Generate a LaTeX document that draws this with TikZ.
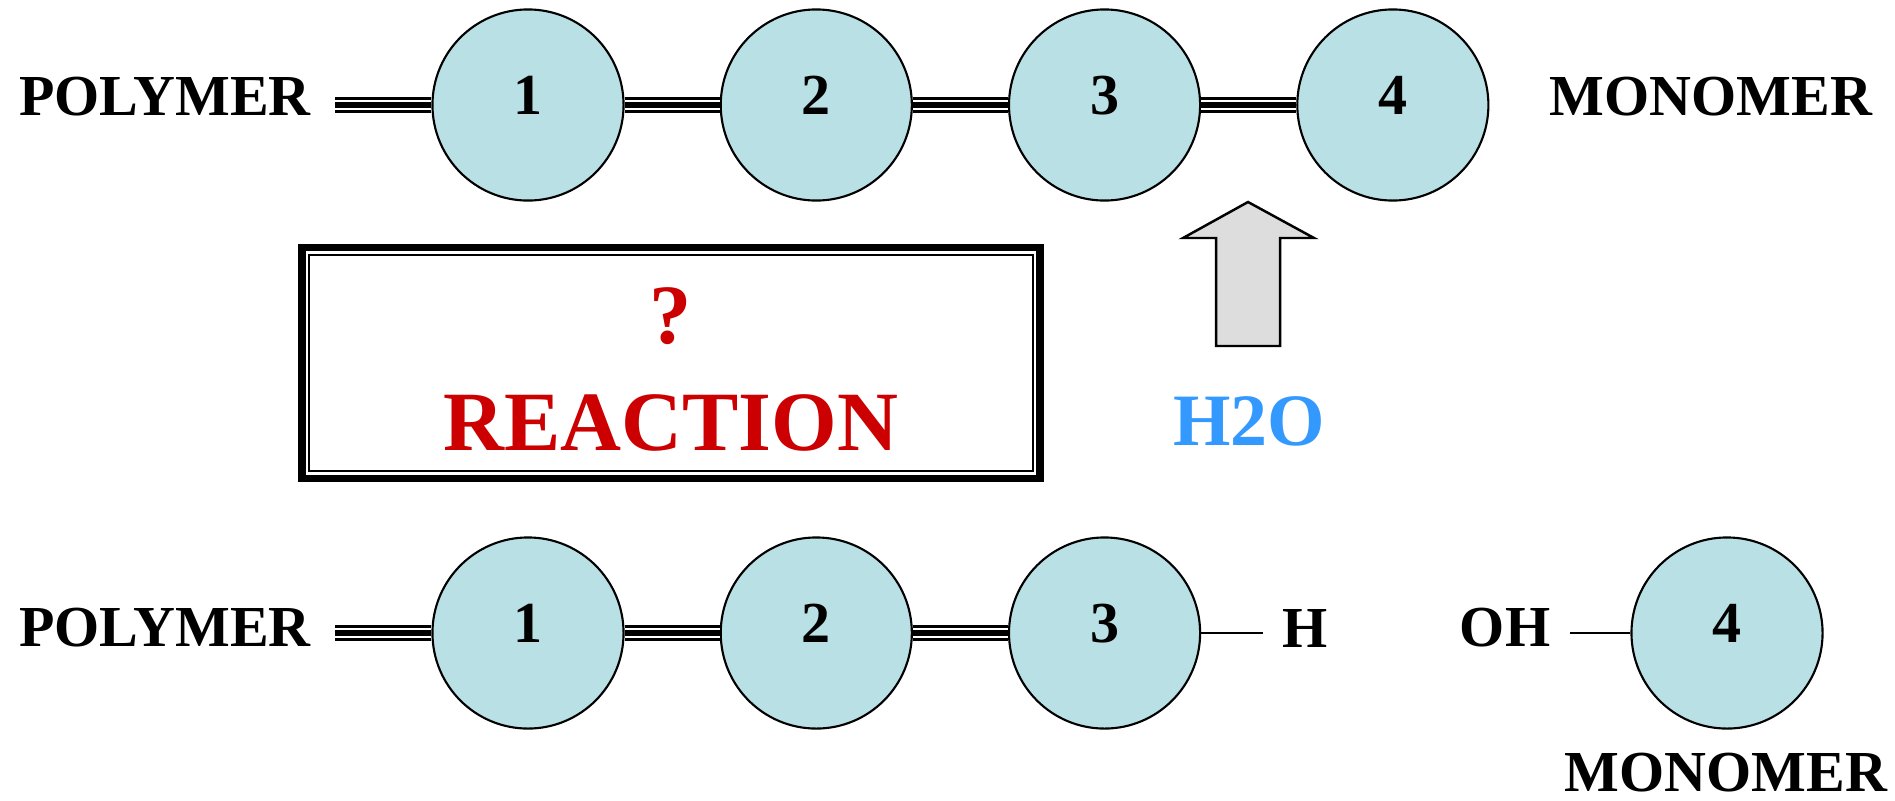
\documentclass[tikz,border=0pt]{standalone}
\usepackage{fontspec}
\setmainfont{Liberation Serif}
\usepackage{xcolor}
\usetikzlibrary{positioning}
\definecolor{beadfill}{RGB}{185,224,228}
\definecolor{rxnred}{RGB}{204,0,0}
\definecolor{waterblue}{RGB}{51,153,255}
\definecolor{arrowgray}{RGB}{221,221,221}
\tikzset{
  bead/.style={
    circle, draw=black, line width=0.6pt, fill=beadfill,
    minimum size=1.91cm, inner sep=0pt, text depth=0.2cm,
    font=\bfseries\fontsize{16.5}{18}\selectfont},
  tag/.style   ={inner sep=0pt, font=\bfseries\fontsize{16.5}{18}\selectfont},
  bond/.style  ={draw=black, line width=4.3pt,
                 postaction={draw=white, line width=3pt},
                 postaction={draw=black, line width=1.75pt}},  % triple bond
  link/.style  ={draw=black, line width=0.6pt},                 % single bond
  rxnbox/.style={rectangle, draw=black, line width=2.2pt,
                 minimum width=7.38cm, minimum height=2.31cm,
                 align=center, text=rxnred,
                 font=\bfseries\fontsize{24}{30.5}\selectfont},
  water/.style ={inner sep=0pt, text=waterblue, font=\bfseries\fontsize{21}{24}\selectfont},
  uparrow/.style={draw=black, line width=0.7pt, fill=arrowgray},
}

\begin{document}
\begin{tikzpicture}[x=0.01cm, y=-0.01cm]
\useasboundingbox (0,0) rectangle (1895,800);

% top chain
\node[bead] (t1) at (528,105) {1};
\node[bead, right=0.95cm of t1] (t2) {2};
\node[bead, right=0.95cm of t2] (t3) {3};
\node[bead, right=0.95cm of t3] (t4) {4};
\node[tag] (tpoly) at (165,97) {POLYMER};
\node[tag] (tmono) at (1711,97) {MONOMER};

\draw[bond] ([xshift=0.24cm]tpoly.east |- t1.west) -- (t1.west);
\draw[bond] (t1) -- (t2);
\draw[bond] (t2) -- (t3);
\draw[bond] (t3) -- (t4);

% reaction box and water
\node[rxnbox] (rxn) at (671,363) {\rule{0pt}{19.6pt}?\\REACTION};
\draw[line width=0.6pt] ([shift={(0.11cm,-0.11cm)}]rxn.north west)
  rectangle ([shift={(-0.11cm,0.11cm)}]rxn.south east);

\draw[uparrow] (1216,346) -- (1216,238) -- (1183,238) -- (1248,202)
  -- (1314,238) -- (1280,238) -- (1280,346) -- cycle;
\node[water] (h2o) at (1249,421) {H2O};

% bottom chain
\node[bead] (b1) at (528,633) {1};
\node[bead, right=0.95cm of b1] (b2) {2};
\node[bead, right=0.95cm of b2] (b3) {3};
\node[bead] (b4) at (1727,633) {4};
\node[tag] (bpoly) at (165,628) {POLYMER};
\node[tag] (bh) at (1305,628) {H};
\node[tag] (boh) at (1505,628) {OH};
\node[tag] (bmono) at (1726,773) {MONOMER};

\draw[bond] ([xshift=0.24cm]bpoly.east |- b1.west) -- (b1.west);
\draw[bond] (b1) -- (b2);
\draw[bond] (b2) -- (b3);
\draw[link] (b3.east) -- ([xshift=-0.19cm]bh.west |- b3.east);
\draw[link] ([xshift=0.19cm]boh.east |- b4.west) -- (b4.west);

\end{tikzpicture}
\end{document}
